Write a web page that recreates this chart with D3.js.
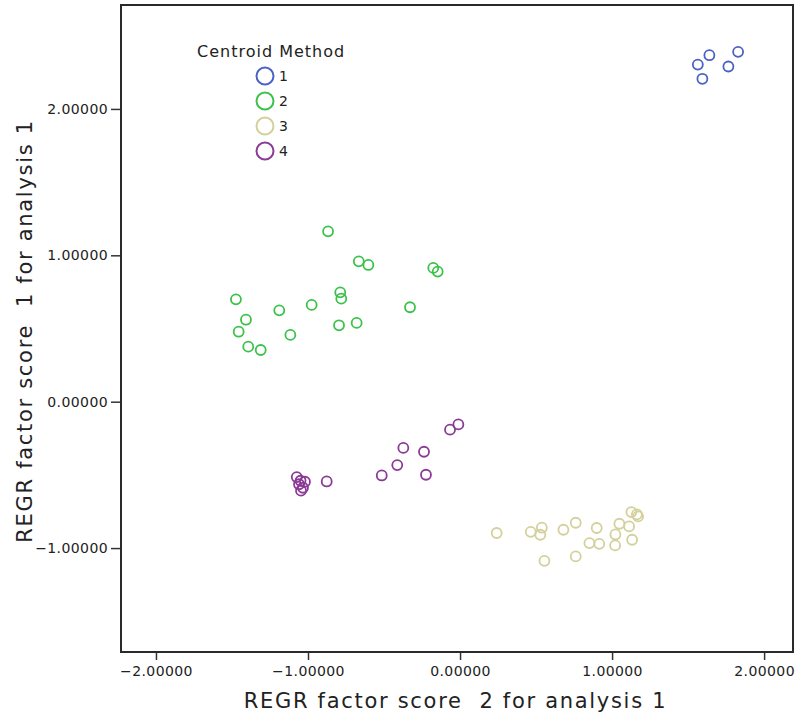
<!DOCTYPE html>
<html>
<head>
<meta charset="utf-8">
<script src="https://cdn.jsdelivr.net/npm/d3@7"></script>
<style>
  body { margin: 0; background: #fff; }
  text { font-family: "DejaVu Sans", sans-serif; fill: #222; }
</style>
</head>
<body>
<div id="chart"></div>
<script>
// cluster membership (Centroid Method) and factor scores
var groups = ["1", "2", "3", "4"];
var colors = ["#4a62c4", "#3cc24a", "#d4d09c", "#8b3a96"];

var blueX = [1.640, 1.564, 1.594, 1.765, 1.829];
var blueY = [2.367, 2.303, 2.206, 2.290, 2.390];

var greenX = [-0.868, -0.666, -0.603, -0.176, -0.147, -1.474, -1.189, -0.976, -0.788,
              -0.781, -0.329, -1.408, -1.456, -1.116, -0.796, -0.680, -1.393, -1.311];
var greenY = [1.164, 0.959, 0.934, 0.914, 0.889, 0.699, 0.624, 0.661, 0.747,
              0.704, 0.645, 0.560, 0.478, 0.456, 0.522, 0.538, 0.376, 0.353];

var beigeX = [0.241, 0.465, 0.538, 0.528, 0.555, 0.680, 0.761, 0.761, 0.899, 0.851,
              0.916, 1.048, 1.112, 1.022, 1.020, 1.132, 1.127, 1.163, 1.171];
var beigeY = [-0.897, -0.889, -0.861, -0.909, -1.087, -0.875, -0.827, -1.057, -0.863, -0.966,
              -0.971, -0.834, -0.852, -0.907, -0.982, -0.943, -0.754, -0.770, -0.784];

var purpleX = [-0.011, -0.066, -0.373, -0.237, -0.413, -0.515, -0.224, -0.877,
               -1.074, -1.049, -1.020, -1.059, -1.033, -1.046];
var purpleY = [-0.155, -0.191, -0.316, -0.342, -0.433, -0.504, -0.499, -0.545,
               -0.515, -0.540, -0.547, -0.564, -0.588, -0.608];

var xTicks = [-2, -1, 0, 1, 2];
var yTicks = [-1, 0, 1, 2];

var xTitle = "REGR factor score  2 for analysis 1";
var yTitle = "REGR factor score  1 for analysis 1";
var legendTitle = "Centroid Method";

// build point list
var series = [[blueX, blueY], [greenX, greenY], [beigeX, beigeY], [purpleX, purpleY]];
var points = [];
series.forEach(function(s, g) {
  s[0].forEach(function(v, i) {
    points.push({x: v, y: s[1][i], g: g});
  });
});

var W = 795, H = 717;
var margin = {top: 5, right: 2, bottom: 65, left: 121},
    width = W - margin.left - margin.right,
    height = H - margin.top - margin.bottom;

var svg = d3.select("#chart").append("svg")
    .attr("width", W)
    .attr("height", H);

var x = d3.scaleLinear().domain([-2.23, 2.19]).range([0, width]);
var y = d3.scaleLinear().domain([-1.71, 2.71]).range([height, 0]);

var g = svg.append("g")
    .attr("transform", "translate(" + margin.left + "," + margin.top + ")");

var fmt = d3.format(".5f");

// x axis
var xAxis = g.append("g")
    .attr("transform", "translate(0," + height + ")")
    .call(d3.axisBottom(x).tickValues(xTicks).tickFormat(fmt).tickSize(8).tickPadding(6));

// y axis
var yAxis = g.append("g")
    .call(d3.axisLeft(y).tickValues(yTicks).tickFormat(fmt).tickSize(10).tickPadding(3));

[xAxis, yAxis].forEach(function(a) {
  a.select(".domain").remove();
  a.selectAll(".tick line").attr("stroke", "#333").attr("stroke-width", 1.5);
  a.selectAll(".tick text")
      .style("font-family", "DejaVu Sans, sans-serif")
      .style("font-size", "14px")
      .style("letter-spacing", "0.4px")
      .attr("fill", "#333");
});

// frame
g.append("rect")
    .attr("x", 0)
    .attr("y", 0)
    .attr("width", width)
    .attr("height", height)
    .attr("fill", "none")
    .attr("stroke", "#2a2a2a")
    .attr("stroke-width", 2);

// points
g.selectAll("circle.pt")
    .data(points)
    .enter().append("circle")
    .attr("class", "pt")
    .attr("cx", function(d) { return x(d.x); })
    .attr("cy", function(d) { return y(d.y); })
    .attr("r", 5)
    .attr("fill", "none")
    .attr("stroke", function(d) { return colors[d.g]; })
    .attr("stroke-width", 1.8);

// legend
var legend = svg.append("g").attr("transform", "translate(197,0)");
legend.append("text")
    .attr("x", 0)
    .attr("y", 57)
    .style("font-size", "16px")
    .style("letter-spacing", "1px")
    .text(legendTitle);

var item = legend.selectAll("g.item")
    .data(groups)
    .enter().append("g")
    .attr("class", "item")
    .attr("transform", function(d, i) { return "translate(68," + (76 + i * 25) + ")"; });

item.append("circle")
    .attr("r", 8.5)
    .attr("fill", "none")
    .attr("stroke", function(d, i) { return colors[i]; })
    .attr("stroke-width", 2);

item.append("text")
    .attr("x", 14)
    .attr("dy", "0.36em")
    .style("font-size", "14px")
    .text(function(d) { return d; });

// axis titles
svg.append("text")
    .attr("x", margin.left + x(-0.03))
    .attr("y", 708)
    .attr("text-anchor", "middle")
    .style("font-size", "21px")
    .style("letter-spacing", "1.7px")
    .style("white-space", "pre")
    .text(xTitle);

svg.append("text")
    .attr("transform", "translate(32,331) rotate(-90)")
    .attr("text-anchor", "middle")
    .style("font-size", "21px")
    .style("letter-spacing", "1.7px")
    .style("white-space", "pre")
    .text(yTitle);
</script>
</body>
</html>
